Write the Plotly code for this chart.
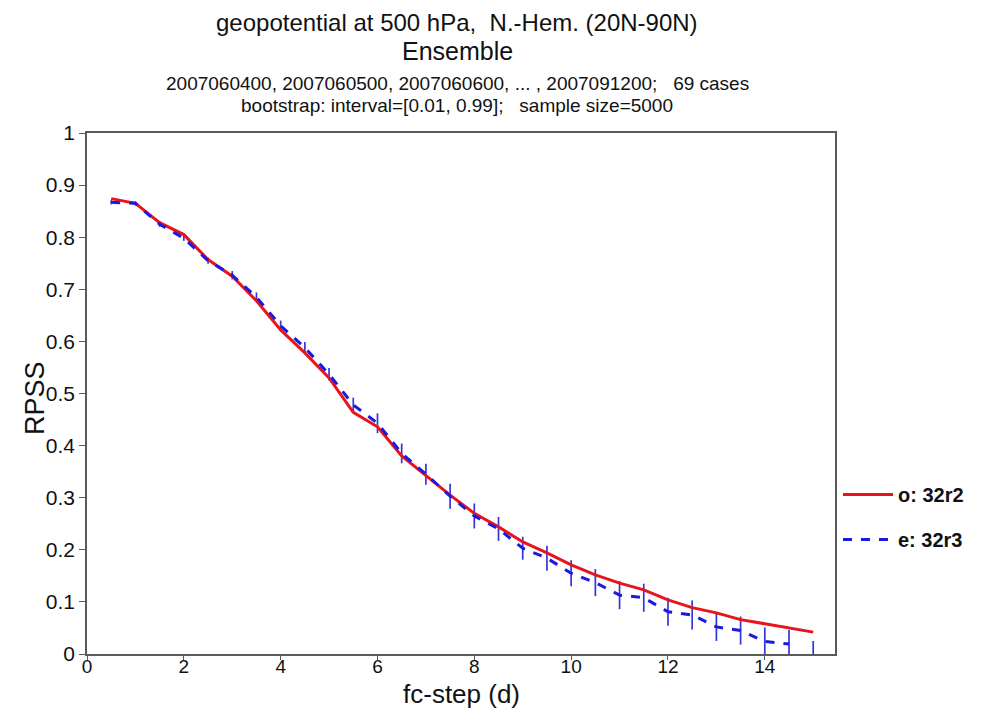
import plotly.graph_objects as go

# ---- data ----
fc_step = [0.5, 1.0, 1.5, 2.0, 2.5, 3.0, 3.5, 4.0, 4.5, 5.0,
           5.5, 6.0, 6.5, 7.0, 7.5, 8.0, 8.5, 9.0, 9.5, 10.0,
           10.5, 11.0, 11.5, 12.0, 12.5, 13.0, 13.5, 14.0, 14.5, 15.0]

rpss_32r2 = [0.874, 0.865, 0.828, 0.805, 0.757, 0.725, 0.678, 0.622, 0.578, 0.530,
             0.464, 0.436, 0.380, 0.343, 0.305, 0.270, 0.244, 0.215, 0.194, 0.171,
             0.152, 0.136, 0.123, 0.104, 0.089, 0.079, 0.066, 0.058, 0.050, 0.042]

rpss_32r3 = [0.867, 0.865, 0.825, 0.798, 0.755, 0.727, 0.685, 0.630, 0.588, 0.537,
             0.478, 0.443, 0.385, 0.345, 0.303, 0.265, 0.240, 0.203, 0.184, 0.155,
             0.137, 0.113, 0.108, 0.081, 0.075, 0.052, 0.045, 0.024, 0.019, None]

# bootstrap interval centre and half-width for 32r3
boot_centre = [0.867, 0.865, 0.825, 0.798, 0.755, 0.727, 0.685, 0.630, 0.588, 0.537,
               0.478, 0.443, 0.385, 0.345, 0.303, 0.265, 0.240, 0.203, 0.184, 0.155,
               0.137, 0.113, 0.108, 0.081, 0.075, 0.052, 0.045, 0.024, 0.019, 0.000]
boot_half = [0.004, 0.004, 0.005, 0.005, 0.006, 0.008, 0.009, 0.010, 0.011, 0.012,
             0.014, 0.019, 0.019, 0.020, 0.024, 0.024, 0.023, 0.022, 0.024, 0.025,
             0.026, 0.027, 0.027, 0.027, 0.028, 0.027, 0.027, 0.027, 0.027, 0.025]

x_ticks = [0, 2, 4, 6, 8, 10, 12, 14]
y_ticks = [0, 0.1, 0.2, 0.3, 0.4, 0.5, 0.6, 0.7, 0.8, 0.9, 1]
y_ticklabels = ["0", "0.1", "0.2", "0.3", "0.4", "0.5", "0.6", "0.7", "0.8", "0.9", "1"]

title_lines = [
    "geopotential at 500 hPa,  N.-Hem. (20N-90N)",
    "Ensemble",
    "2007060400, 2007060500, 2007060600, ... , 2007091200;   69 cases",
    "bootstrap: interval=[0.01, 0.99];   sample size=5000",
]

FONT = "Liberation Sans, Arial, Helvetica, sans-serif"
AXCOL = "#5a5a5a"
TXT = "#111111"

# layout geometry (figure pixels; page body adds an 8px offset)
W, H = 1000, 715
L, R, T, B = 79, 173, 125, 69
PW, PH = W - L - R, H - T - B

def px(xf):
    return (xf - L) / PW

def py(yf):
    return (H - B - yf) / PH

fig = go.Figure()

fig.add_trace(go.Scatter(
    x=fc_step, y=boot_centre, mode="lines",
    line=dict(width=0, color="rgba(0,0,0,0)"),
    error_y=dict(type="data", array=boot_half, visible=True,
                 color="#3535dd", thickness=1.7, width=0),
    showlegend=False, hoverinfo="skip",
))

fig.add_trace(go.Scatter(
    x=fc_step, y=rpss_32r2, mode="lines", name="o: 32r2",
    line=dict(color="#e8141c", width=3),
    legendgroup="a",
))

fig.add_trace(go.Scatter(
    x=fc_step, y=rpss_32r3, mode="lines", name="e: 32r3",
    line=dict(color="#1a1ae0", width=3, dash="dash"),
    connectgaps=False,
    legendgroup="b",
))

annotations = []
title_rows = [14, 43, 75, 97]
title_sizes = [24, 25, 19, 19]
for txt, yr, fs in zip(title_lines, title_rows, title_sizes):
    annotations.append(dict(
        text=txt, xref="paper", yref="paper", x=px(449), y=py(yr),
        xanchor="center", yanchor="middle", showarrow=False,
        font=dict(family=FONT, size=fs, color=TXT)))

annotations.append(dict(
    text="fc-step (d)", xref="paper", yref="paper", x=px(453), y=py(686),
    xanchor="center", yanchor="middle", showarrow=False,
    font=dict(family=FONT, size=26, color=TXT)))
annotations.append(dict(
    text="RPSS", xref="paper", yref="paper", x=px(27), y=py(390),
    xanchor="center", yanchor="middle", showarrow=False, textangle=-90,
    font=dict(family=FONT, size=27, color=TXT)))

fig.update_layout(
    width=W, height=H,
    margin=dict(l=L, r=R, t=T, b=B, autoexpand=False),
    paper_bgcolor="white", plot_bgcolor="white",
    font=dict(family=FONT, color=TXT),
    showlegend=True,
    legend=dict(
        x=1.004, y=py(467), xanchor="left", yanchor="top",
        font=dict(family=FONT, size=20, color=TXT, weight="bold"),
        traceorder="grouped", tracegroupgap=16,
        itemwidth=50, bgcolor="rgba(0,0,0,0)",
    ),
    xaxis=dict(
        range=[0, 15.45], tickvals=x_ticks, ticks="outside", ticklen=4,
        tickwidth=1.2, tickcolor=AXCOL, showline=True, linecolor=AXCOL,
        linewidth=1.5, mirror=True, showgrid=False, zeroline=False,
        automargin=False, ticklabelstandoff=-10,
        tickfont=dict(family=FONT, size=19, color=TXT),
    ),
    yaxis=dict(
        range=[0, 1], tickvals=y_ticks, ticktext=y_ticklabels, ticks="outside",
        ticklen=6, tickwidth=1.2, tickcolor=AXCOL, showline=True, linecolor=AXCOL,
        linewidth=1.5, mirror=True, showgrid=False, zeroline=False,
        automargin=False,
        tickfont=dict(family=FONT, size=21, color=TXT),
    ),
    annotations=annotations,
)

fig.write_html("out.html")
